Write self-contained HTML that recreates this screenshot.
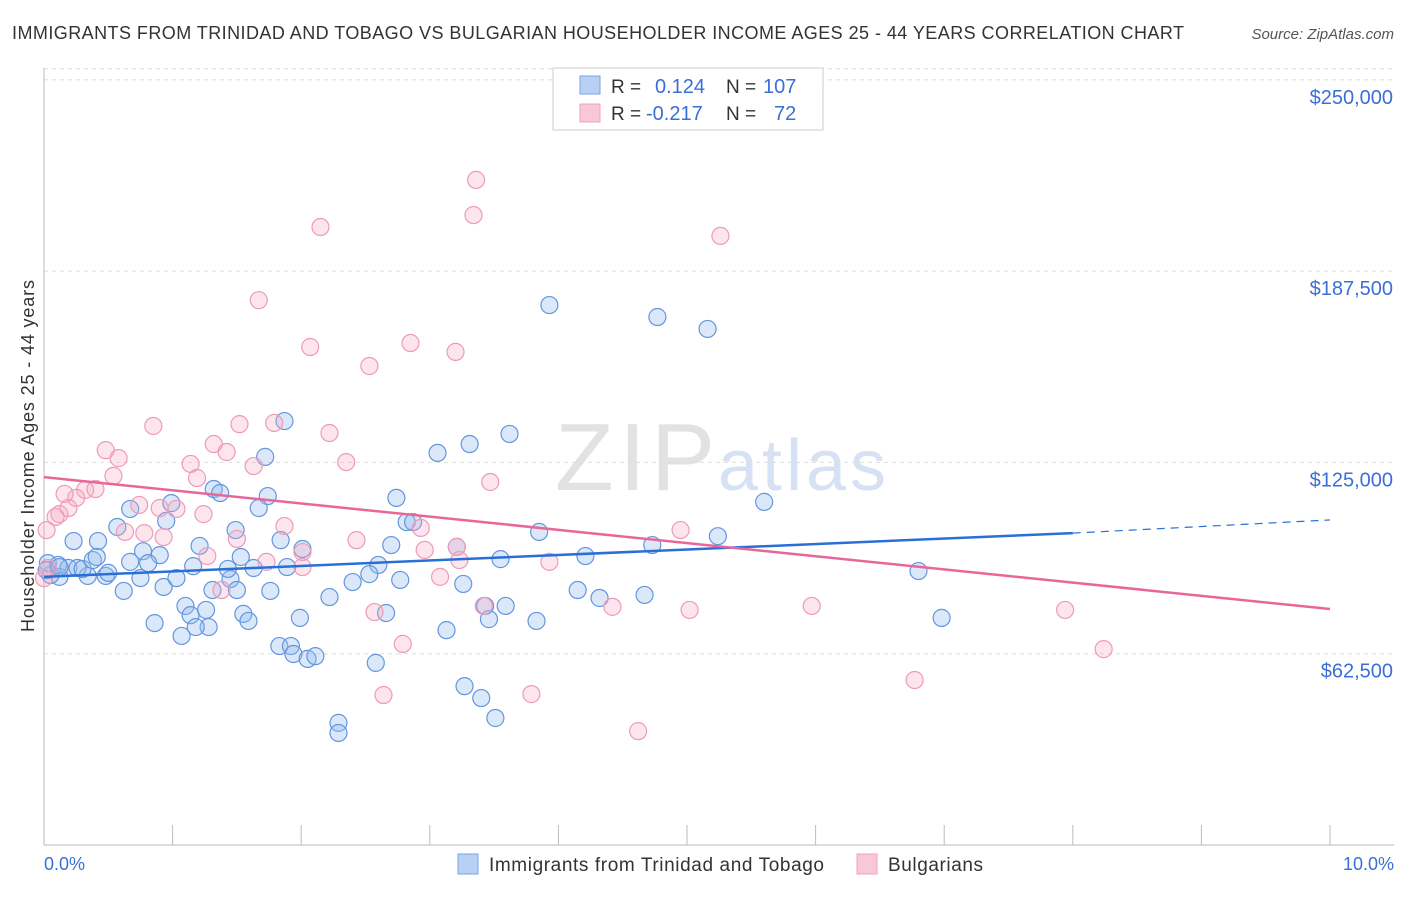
<!DOCTYPE html>
<html><head><meta charset="utf-8"><style>
body{margin:0;background:#fff;font-family:"Liberation Sans",sans-serif;}
svg text{font-family:"Liberation Sans",sans-serif;}
</style></head><body>
<svg id="chart" width="1406" height="892">
<text x="12" y="39" font-size="18" fill="#333" textLength="1172" lengthAdjust="spacing">IMMIGRANTS FROM TRINIDAD AND TOBAGO VS BULGARIAN HOUSEHOLDER INCOME AGES 25 - 44 YEARS CORRELATION CHART</text>
<text x="1394" y="39" font-size="15" fill="#555" font-style="italic" text-anchor="end">Source: ZipAtlas.com</text>
<text x="555" y="490" font-size="96" fill="#e2e2e2" textLength="160" font-family="Liberation Serif">ZIP</text>
<text x="718" y="490" font-size="72" fill="#d6e2f3" textLength="168">atlas</text>
<g id="grid"></g>
<g id="axes"></g>
<g id="pts"></g>
<g id="trend"></g>
<text transform="translate(34,456) rotate(-90)" font-size="18" fill="#333" text-anchor="middle" textLength="352">Householder Income Ages 25 - 44 years</text>
<text x="44" y="870" font-size="18" fill="#3a6fd8">0.0%</text>
<text x="1394" y="870" font-size="18" fill="#3a6fd8" text-anchor="end">10.0%</text>
<g>
<rect x="553" y="68" width="270" height="62" fill="#fff" stroke="#ccc"/>
<rect x="580" y="76" width="20" height="18" fill="#b8d0f4" stroke="#7aa3e0"/>
<rect x="580" y="104" width="20" height="18" fill="#f9c8d8" stroke="#f0a0bc"/>
<text x="611" y="93" font-size="19" fill="#333">R = </text><text x="655" y="93" font-size="20" fill="#3a6fd8">0.124</text>
<text x="726" y="93" font-size="19" fill="#333">N = </text><text x="763" y="93" font-size="20" fill="#3a6fd8">107</text>
<text x="611" y="120" font-size="19" fill="#333">R = </text><text x="646" y="120" font-size="20" fill="#3a6fd8">-0.217</text>
<text x="726" y="120" font-size="19" fill="#333">N = </text><text x="774" y="120" font-size="20" fill="#3a6fd8">72</text>
</g>
<g>
<rect x="458" y="854" width="20" height="20" fill="#b8d0f4" stroke="#7aa3e0"/>
<text x="489" y="871" font-size="19" fill="#333" textLength="335">Immigrants from Trinidad and Tobago</text>
<rect x="857" y="854" width="20" height="20" fill="#f9c8d8" stroke="#f0a0bc"/>
<text x="888" y="871" font-size="19" fill="#333" textLength="95">Bulgarians</text>
</g>
</svg>
<script>
const yTicks=[62500,125000,187500,250000];
const yTickLabels=["$62,500","$125,000","$187,500","$250,000"];
const xTicks=[0,1,2,3,4,5,6,7,8,9,10];
const blueX=[3.93,4.77,5.16,1.87,3.62,3.31,3.06,1.72,5.60,2.74,1.32,1.37,1.74,0.99,0.67,0.95,1.67,2.82,2.87,3.85,5.24,3.21,4.73,4.21,3.55,2.70,2.01,1.84,1.49,1.21,0.57,0.42,0.23,0.77,0.90,1.53,1.63,1.89,2.60,2.53,2.77,3.26,2.40,2.22,4.15,4.32,4.67,6.80,6.98,3.59,3.46,3.83,3.43,2.66,1.99,1.55,1.59,1.10,1.26,1.14,1.28,1.18,0.86,1.07,1.76,1.31,1.45,1.50,0.93,0.62,0.75,1.03,0.48,0.34,0.12,0.05,0.03,0.11,0.19,0.26,0.30,0.38,0.41,0.50,0.67,0.81,1.16,1.43,1.83,1.92,1.94,2.05,2.11,2.58,3.13,3.27,3.40,3.51,2.29,2.29,0.02,0.12];
const blueY=[176.4,172.5,168.6,138.5,134.3,131.0,128.1,126.8,112.1,113.4,116.3,115.0,114.0,111.7,109.8,105.9,110.1,105.5,105.5,102.3,100.9,97.4,98.0,94.4,93.4,98.0,96.7,99.6,102.9,97.7,103.9,99.3,99.3,96.0,94.7,94.1,90.5,90.8,91.5,88.5,86.6,85.3,85.9,81.0,83.3,80.7,81.7,89.5,74.2,78.1,73.8,73.2,78.1,75.8,74.2,75.5,73.2,78.1,76.8,75.1,71.2,71.2,72.5,68.3,83.0,83.3,86.9,83.3,84.3,83.0,87.2,87.2,87.9,87.9,87.6,88.2,92.1,91.5,90.5,90.5,90.2,93.1,94.1,88.9,92.5,92.1,91.1,90.2,65.0,65.0,62.4,60.8,61.7,59.5,70.2,51.9,48.0,41.5,39.9,36.6,89.8,90.8];
const pinkX=[3.36,3.34,2.15,5.26,1.67,2.07,2.53,2.85,3.20,0.85,1.52,1.79,2.22,2.35,3.47,0.48,0.58,1.32,1.42,1.14,1.19,1.63,0.54,0.32,0.25,0.40,0.12,0.19,0.90,1.03,1.24,0.74,0.63,0.78,0.93,1.50,1.87,2.43,2.93,3.21,3.23,2.01,2.01,1.73,1.27,2.96,3.08,3.93,4.95,2.57,3.42,4.42,5.02,5.97,7.94,8.24,2.79,2.64,3.79,4.62,6.77,1.38,0.02,0.09,0.00,0.03,0.16];
const pinkY=[217.3,205.8,201.9,199.0,178.0,162.7,156.5,164.0,161.1,136.9,137.5,137.9,134.6,125.1,118.6,129.0,126.4,131.0,128.4,124.5,119.9,123.8,120.6,116.0,113.4,116.3,108.1,110.1,110.1,109.8,108.1,111.1,102.3,101.9,100.6,100.0,104.2,99.6,103.6,97.4,93.1,95.7,90.8,92.5,94.4,96.4,87.6,92.5,102.9,76.1,78.1,77.8,76.8,78.1,76.8,64.0,65.7,49.0,49.3,37.2,53.9,83.3,102.9,107.2,87.2,90.5,114.7];
const blueTrend=[87.6,101.9,106.2]; // at 0%, 8%, 10%
const pinkTrend=[120.2,77.1]; // at 0%, 10%
const NS="http://www.w3.org/2000/svg";
const sx=v=>44+v*128.6;
const sy=v=>845-v/62500*191.3;
const syk=v=>sy(v*1000);
function mk(tag,attrs,parent){const e=document.createElementNS(NS,tag);for(const k in attrs)e.setAttribute(k,attrs[k]);parent.appendChild(e);return e;}
const grid=document.getElementById('grid'),axes=document.getElementById('axes'),pts=document.getElementById('pts'),trend=document.getElementById('trend');
yTicks.forEach((t,i)=>{
 const l=mk('line',{x1:44,x2:1394,y1:sy(t),y2:sy(t),stroke:'#ddd','stroke-dasharray':'4,4'},grid);
 
 
 const tx=mk('text',{x:1393,y:sy(t)+24,'font-size':20,fill:'#3a6fd8','text-anchor':'end'},grid);
 tx.textContent=yTickLabels[i];
 
 
});
const tl=mk('line',{x1:44,x2:1394,y1:sy(250000)-11,y2:sy(250000)-11,stroke:'#ddd','stroke-dasharray':'4,4'},grid);


const ya=mk('line',{x1:44,x2:44,y1:68,y2:845,stroke:'#bbb'},axes);


const xa=mk('line',{x1:44,x2:1394,y1:845,y2:845,stroke:'#bbb'},axes);


xTicks.forEach(t=>{
 const l=mk('line',{x1:sx(t),x2:sx(t),y1:825,y2:845,stroke:'#bbb'},axes);
 
 
});
blueX.forEach((x,i)=>{
 const c=mk('circle',{cx:sx(x),cy:syk(blueY[i]),r:8.5,fill:'rgba(150,188,238,0.35)',stroke:'#6496de','stroke-width':1.2},pts);
 
 
});
pinkX.forEach((x,i)=>{
 const c=mk('circle',{cx:sx(x),cy:syk(pinkY[i]),r:8.5,fill:'rgba(245,170,195,0.3)',stroke:'#ef9ab8','stroke-width':1.2},pts);
 
 
});
const b1=mk('line',{x1:sx(0),y1:syk(blueTrend[0]),x2:sx(8),y2:syk(blueTrend[1]),stroke:'#2a6fd6','stroke-width':2.5},trend);


const b2=mk('line',{x1:sx(8),y1:syk(blueTrend[1]),x2:sx(10),y2:syk(blueTrend[2]),stroke:'#2a6fd6','stroke-width':1.2,'stroke-dasharray':'8,6'},trend);


const p1=mk('line',{x1:sx(0),y1:syk(pinkTrend[0]),x2:sx(10),y2:syk(pinkTrend[1]),stroke:'#e8679a','stroke-width':2.5},trend);


</script>
</body></html>
